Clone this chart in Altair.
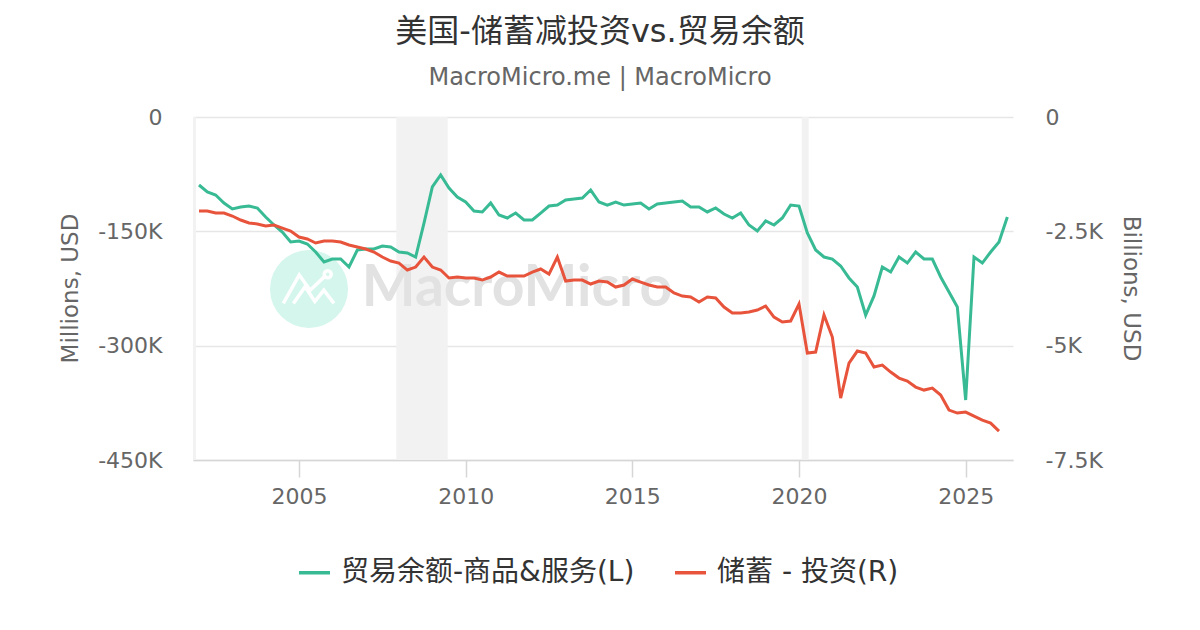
import altair as alt
import pandas as pd

title_text = "美国-储蓄减投资vs.贸易余额"
subtitle_text = "MacroMicro.me | MacroMicro"
series_names = ["贸易余额-商品&服务(L)", "储蓄 - 投资(R)"]
series_colors = ["#38bb94", "#e8533c"]

start_year = 2002  # first quarter shown: 2002 Q1

# Trade balance, goods & services (millions USD, quarterly)
trade = [
    -89200, -98400, -102300, -112800, -120700, -118100, -116800, -119400,
    -131200, -141700, -150900, -164000, -162700, -166600, -177100, -190200,
    -186300, -186300, -196800, -174500, -173200, -173200, -169200, -170600,
    -177100, -178400, -183700, -139100, -91800, -76100, -93200, -105000,
    -111500, -123300, -124600, -112800, -128600, -132500, -126000, -135100,
    -135100, -126000, -116800, -115500, -108900, -107600, -106300, -95800,
    -111500, -115500, -111500, -115500, -114100, -112800, -120700, -114100,
    -112800, -111500, -110200, -118100, -118100, -124600, -119400, -127300,
    -132500, -126000, -141700, -149600, -136400, -141700, -132500, -115500,
    -116800, -152200, -174500, -183700, -186300, -195500, -211200, -223000,
    -259800, -234800, -196800, -203400, -183700, -191600, -177100, -186300,
    -186300, -209900, -229600, -249300, -371300, -183700, -191600, -177100,
    -164000, -131200,
]

# Saving minus investment (billions USD, quarterly)
saving = [
    -2056, -2056, -2100, -2100, -2165, -2253, -2318, -2340,
    -2384, -2362, -2428, -2493, -2624, -2668, -2756, -2712,
    -2712, -2734, -2799, -2843, -2887, -2952, -3062, -3149,
    -3193, -3346, -3281, -3062, -3281, -3346, -3521, -3499,
    -3521, -3521, -3565, -3499, -3390, -3477, -3477, -3477,
    -3390, -3324, -3434, -3062, -3587, -3565, -3565, -3652,
    -3587, -3609, -3718, -3674, -3543, -3609, -3674, -3718,
    -3718, -3849, -3915, -3937, -4046, -3937, -3958, -4155,
    -4287, -4287, -4265, -4221, -4133, -4374, -4483, -4461,
    -4090, -5161, -5139, -4330, -4811, -6145, -5380, -5118,
    -5161, -5468, -5424, -5577, -5708, -5774, -5905, -5971,
    -5927, -6080, -6408, -6474, -6452, -6539, -6627, -6692,
    -6867,
]

# Recessions (decimal years)
rec_start = [2001.20, 2007.92, 2020.08]
rec_end = [2001.91, 2009.46, 2020.29]

x_domain = [2001.82, 2026.42]
x_ticks = [2005, 2010, 2015, 2020, 2025]
left_ticks = [0, -150000, -300000, -450000]
right_ticks = [0, -2500, -5000, -7500]

df_trade = pd.DataFrame({
    "t": [start_year + i / 4 for i in range(len(trade))],
    "v": trade,
    "s": series_names[0],
})
df_saving = pd.DataFrame({
    "t": [start_year + i / 4 for i in range(len(saving))],
    "v": saving,
    "s": series_names[1],
})
df_rec = pd.DataFrame({"a": rec_start, "b": rec_end})
one = pd.DataFrame({"k": [0]})

W, H = 820, 343
FONT = "DejaVu Sans, Noto Sans CJK SC"
CJK = "DejaVu Sans, Noto Sans CJK SC"

xs = alt.Scale(domain=x_domain, nice=False, zero=False)
x_axis = alt.Axis(
    values=x_ticks, format="d", grid=False, title=None,
    domainColor="#d6d6d6", domainWidth=1.5, tickColor="#d6d6d6", tickWidth=1.5,
    tickSize=17, labelFontSize=22, labelColor="#666666", labelFont=FONT,
    labelPadding=9,
)

color_enc = alt.Color(
    "s:N",
    scale=alt.Scale(domain=series_names, range=series_colors),
    legend=alt.Legend(
        orient="none", legendX=104, legendY=438, direction="horizontal",
        title=None, symbolType="stroke", symbolSize=961, symbolStrokeWidth=3.5,
        labelFontSize=28, labelFont=CJK, labelColor="#333333", labelOffset=9,
        columnPadding=33, padding=0, labelLimit=600,
    ),
)

bands = alt.Chart(df_rec).mark_rect(color="#f2f2f2", clip=True).encode(
    x=alt.X("a:Q", scale=xs, axis=x_axis),
    x2="b:Q",
)

wm_circle = alt.Chart(one).mark_point(
    shape="circle", filled=True, color="#d4f6ec", opacity=1, size=78 * 78
).encode(x=alt.value(116), y=alt.value(172))

icon_path = (
    "M -0.66 0.37 L -0.25 -0.36 L 0.03 0.03 L 0.41 -0.33 "
    "M -0.40 0.37 L -0.10 -0.06 L 0.15 0.32 L 0.38 0.03 L 0.64 0.37 "
    "M 0.57 -0.38 A 0.09 0.09 0 1 1 0.39 -0.38 A 0.09 0.09 0 1 1 0.57 -0.38"
)
wm_icon = alt.Chart(one).mark_point(
    shape=icon_path, filled=False, stroke="#ffffff", strokeWidth=3.5,
    opacity=1, size=78 * 78,
).encode(x=alt.value(116), y=alt.value(172))

wm_text = alt.Chart(one).mark_text(
    text="MacroMicro", font="Lato", fontWeight="bold", fontSize=57,
    color="#e2e2e2", align="center", baseline="middle",
).encode(x=alt.value(324), y=alt.value(172))

green = alt.Chart(df_trade).mark_line(strokeWidth=3).encode(
    x=alt.X("t:Q", scale=xs, axis=x_axis),
    y=alt.Y(
        "v:Q",
        scale=alt.Scale(domain=[-450000, 0], nice=False, zero=False),
        axis=alt.Axis(
            orient="left", values=left_ticks,
            labelExpr="datum.value == 0 ? '0' : '-' + format(-datum.value / 1000, 'd') + 'K'",
            title="Millions, USD", grid=True, gridColor="#e6e6e6", gridWidth=1.5,
            domain=False, ticks=False, labelPadding=31, labelFontSize=22,
            labelColor="#666666", labelFont=FONT, titleFont=FONT,
            titleFontSize=23, titleColor="#666666", titleFontWeight="normal",
            titleX=-123, titleY=171, titleAngle=270, titleAlign="center",
            titleBaseline="middle",
        ),
    ),
    color=color_enc,
)

red = alt.Chart(df_saving).mark_line(strokeWidth=3).encode(
    x=alt.X("t:Q", scale=xs, axis=x_axis),
    y=alt.Y(
        "v:Q",
        scale=alt.Scale(domain=[-7500, 0], nice=False, zero=False),
        axis=alt.Axis(
            orient="right", values=right_ticks,
            labelExpr="datum.value == 0 ? '0' : '-' + format(-datum.value / 1000, '~g') + 'K'",
            title="Billions, USD", grid=False, domain=False, ticks=False,
            labelPadding=32, labelFontSize=22, labelColor="#666666",
            labelFont=FONT, titleFont=FONT, titleFontSize=23,
            titleColor="#666666", titleFontWeight="normal",
            titleX=117, titleY=171, titleAngle=90, titleAlign="center",
            titleBaseline="middle",
        ),
    ),
    color=color_enc,
)

t_main = alt.Chart(one).mark_text(
    text=title_text, font=CJK, fontSize=32, color="#333333",
    align="center", baseline="middle",
).encode(x=alt.value(407), y=alt.value(-85))

t_sub = alt.Chart(one).mark_text(
    text=subtitle_text, font=FONT, fontSize=24, color="#666666",
    align="center", baseline="middle",
).encode(x=alt.value(407), y=alt.value(-39))

chart = alt.layer(
    bands, wm_circle, wm_icon, wm_text, green, red, t_main, t_sub
).resolve_scale(y="independent").properties(
    width=W, height=H,
    autosize=alt.AutoSizeParams(type="none"),
    padding={"left": 185, "top": 109, "right": 179, "bottom": 162},
    background="#ffffff",
).configure_view(stroke=None)

chart.save("out.html", embed_options={"renderer": "svg", "actions": False})
